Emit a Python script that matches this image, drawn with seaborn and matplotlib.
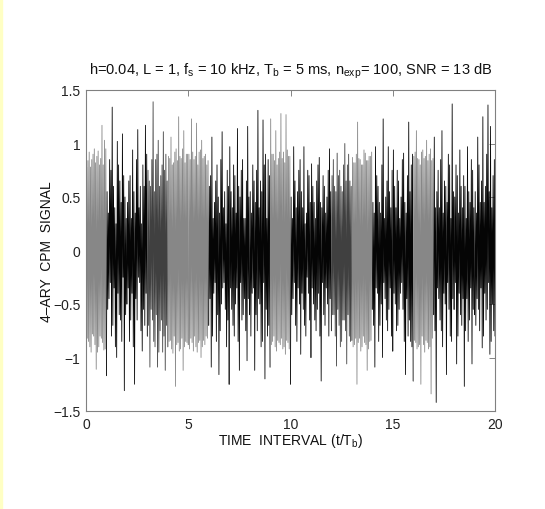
import numpy as np
import pandas as pd
import matplotlib
matplotlib.use("Agg")
import matplotlib.pyplot as plt
from matplotlib.patches import Rectangle
import seaborn as sns

# ---------------- data ----------------
# 4-ary symbol per bit interval (controls the grey / black look of each interval)
symbols = [3, -1, -3, 1, 3, 3, -1, -3, -1, 3,
           -3, -1, 1, 3, -1, -3, 3, -1, -3, -1]

# per interval, 8 groups of 4 samples: trough_a, crest_a, trough_b, crest_b
troughs_a = [
    -1.28, -0.85, -0.95, -0.80, -1.11, -0.90, -0.82, -0.93,
    -1.17, -0.45, -0.80, -0.35, -1.00, -0.60, -0.85, -1.31,
    -0.50, -0.85, -0.40, -1.25, -0.65, -0.30, -0.94, -0.70,
    -0.80, -1.09, -0.65, -0.90, -1.09, -0.75, -0.95, -1.12,
    -0.90, -0.84, -0.96, -1.27, -0.86, -0.92, -1.12, -0.85,
    -0.88, -0.82, -0.94, -0.90, -0.86, -1.00, -0.84, -0.80,
    -0.70, -1.09, -0.40, -0.85, -1.16, -0.50, -0.30, -0.90,
    -1.25, -0.55, -0.80, -0.35, -1.12, -0.65, -0.45, -1.03,
    -0.60, -0.40, -1.12, -0.75, -0.50, -0.85, -1.20, -0.80,
    -1.09, -0.85, -0.90, -0.84, -0.88, -0.92, -0.97, -0.86,
    -1.25, -0.45, -0.70, -0.35, -0.97, -0.55, -0.80, -0.40,
    -1.00, -0.50, -0.75, -0.40, -1.22, -0.60, -0.35, -0.80,
    -0.75, -0.60, -1.08, -0.70, -0.85, -0.65, -1.06, -0.80,
    -0.84, -0.88, -1.25, -0.82, -0.90, -0.86, -1.12, -0.85,
    -0.55, -1.09, -0.40, -0.70, -1.00, -0.45, -0.75, -0.35,
    -0.94, -0.50, -0.70, -0.40, -0.55, -1.16, -0.80, -0.85,
    -1.22, -0.86, -0.90, -1.25, -0.88, -0.84, -0.92, -1.34,
    -0.60, -1.42, -0.45, -0.75, -0.40, -1.16, -0.55, -0.85,
    -0.55, -1.06, -0.40, -0.70, -1.27, -0.45, -0.65, -1.06,
    -0.60, -0.45, -0.75, -0.91, -0.40, -0.55, -0.97, -0.50,
]
crests_a = [
    0.78, 0.92, 0.85, 0.95, 0.88, 0.80, 1.17, 1.03,
    0.55, 0.85, 1.34, 0.40, 1.02, 0.65, 1.09, 0.50,
    0.45, 0.70, 0.94, 0.35, 1.13, 0.60, 0.80, 1.17,
    0.75, 0.60, 1.39, 0.85, 1.03, 0.70, 1.11, 0.90,
    0.88, 1.06, 0.82, 0.95, 1.25, 0.86, 1.12, 0.90,
    0.90, 1.23, 0.85, 1.19, 0.92, 1.03, 0.88, 0.80,
    0.60, 1.06, 0.45, 0.80, 0.35, 1.11, 0.55, 0.75,
    0.97, 0.40, 0.70, 1.14, 0.50, 0.85, 0.30, 1.16,
    0.55, 0.80, 0.45, 1.31, 0.65, 1.22, 0.90, 0.85,
    1.23, 0.90, 1.12, 0.86, 1.28, 0.92, 1.27, 0.88,
    0.50, 0.97, 0.40, 0.75, 0.55, 0.97, 0.35, 0.70,
    0.81, 0.45, 0.65, 0.87, 0.40, 0.60, 0.50, 0.95,
    0.70, 0.60, 0.91, 0.75, 0.55, 1.00, 0.80, 0.65,
    0.87, 0.82, 1.20, 0.85, 0.80, 0.91, 0.84, 0.88,
    0.45, 0.97, 0.60, 0.35, 1.23, 0.50, 0.97, 0.40,
    0.94, 0.40, 0.65, 0.50, 0.91, 0.35, 1.20, 0.80,
    0.88, 1.12, 0.85, 0.92, 0.86, 1.03, 0.90, 0.84,
    1.06, 0.55, 0.40, 1.12, 0.65, 0.45, 0.80, 1.37,
    0.50, 0.70, 0.94, 0.40, 0.60, 0.97, 0.45, 0.75,
    0.55, 1.06, 0.45, 1.25, 0.60, 1.36, 1.16, 0.70,
]
troughs_b = [
    -0.82, -0.90, -0.78, -0.88, -0.95, -0.80, -0.86, -0.92,
    -0.55, -0.30, -0.70, -0.90, -0.40, -0.65, -0.25, -0.60,
    -0.35, -0.65, -0.90, -0.45, -0.25, -0.75, -0.55, -0.40,
    -0.70, -0.55, -0.85, -0.60, -0.95, -0.65, -0.80, -0.70,
    -0.85, -0.92, -0.80, -0.88, -0.94, -0.82, -0.90, -0.86,
    -0.92, -0.86, -0.80, -0.95, -0.84, -0.90, -0.88, -0.82,
    -0.45, -0.80, -0.30, -0.60, -0.75, -0.35, -0.55, -0.65,
    -0.35, -0.70, -0.50, -0.85, -0.30, -0.60, -0.75, -0.45,
    -0.80, -0.35, -0.60, -0.45, -0.90, -0.30, -0.55, -0.70,
    -0.88, -0.80, -0.94, -0.86, -0.82, -0.90, -0.84, -0.92,
    -0.60, -0.30, -0.85, -0.50, -0.40, -0.70, -0.25, -0.65,
    -0.35, -0.65, -0.55, -0.80, -0.30, -0.70, -0.50, -0.45,
    -0.60, -0.80, -0.55, -0.90, -0.65, -0.75, -0.60, -0.85,
    -0.90, -0.82, -0.86, -0.94, -0.80, -0.88, -0.92, -0.84,
    -0.70, -0.35, -0.85, -0.50, -0.30, -0.65, -0.55, -0.80,
    -0.40, -0.75, -0.55, -0.30, -0.85, -0.45, -0.65, -0.90,
    -0.84, -0.92, -0.88, -0.80, -0.95, -0.86, -0.90, -0.82,
    -0.75, -0.35, -0.65, -0.90, -0.50, -0.30, -0.80, -0.45,
    -0.30, -0.80, -0.60, -0.45, -0.75, -0.85, -0.35, -0.55,
    -0.70, -0.55, -0.35, -0.80, -0.65, -0.30, -0.85, -0.75,
]
crests_b = [
    0.84, 0.78, 0.90, 0.82, 0.93, 0.86, 0.80, 0.95,
    0.35, 0.75, 0.60, 0.25, 0.80, 0.45, 0.70, 0.30,
    0.65, 0.30, 0.55, 0.85, 0.40, 0.25, 0.60, 0.90,
    0.65, 0.85, 0.55, 0.90, 0.60, 0.80, 0.75, 0.65,
    0.86, 0.80, 0.92, 0.84, 0.88, 0.95, 0.82, 0.90,
    0.85, 0.92, 0.88, 0.80, 0.94, 0.86, 0.90, 0.84,
    0.70, 0.30, 0.65, 0.50, 0.85, 0.40, 0.25, 0.60,
    0.55, 0.80, 0.35, 0.60, 0.75, 0.30, 0.65, 0.50,
    0.35, 0.65, 0.75, 0.40, 0.55, 0.80, 0.30, 0.70,
    0.90, 0.84, 0.80, 0.92, 0.86, 0.82, 0.94, 0.88,
    0.30, 0.65, 0.55, 0.85, 0.40, 0.25, 0.75, 0.45,
    0.60, 0.30, 0.80, 0.45, 0.70, 0.35, 0.75, 0.55,
    0.85, 0.55, 0.70, 0.60, 0.80, 0.65, 0.90, 0.60,
    0.82, 0.90, 0.86, 0.80, 0.94, 0.84, 0.88, 0.92,
    0.35, 0.70, 0.45, 0.80, 0.30, 0.65, 0.55, 0.75,
    0.60, 0.75, 0.30, 0.85, 0.45, 0.70, 0.55, 0.90,
    0.92, 0.86, 0.80, 0.94, 0.88, 0.84, 0.95, 0.86,
    0.40, 0.75, 0.85, 0.35, 0.60, 0.90, 0.30, 0.55,
    0.80, 0.35, 0.60, 0.70, 0.30, 0.55, 0.85, 0.40,
    0.35, 0.80, 0.65, 0.45, 0.90, 0.55, 0.40, 0.85,
]
final_value = -0.80

x_ticks = [0, 5, 10, 15, 20]
y_ticks = [-1.5, -1, -0.5, 0, 0.5, 1, 1.5]
y_tick_labels = ["\u22121.5", "\u22121", "\u22120.5", "0", "0.5", "1", "1.5"]
line_shade = {3: "#878787", 1: "#404040", -1: "#050505", -3: "#050505"}

title = (r"h=0.04, L = 1, f$_{s}$ = 10 kHz, T$_{b}$ = 5 ms, "
         r"n$_{exp}$= 100, SNR = 13 dB")
xlabel = r"TIME  INTERVAL (t/T$_{b}$)"
ylabel = "4\u2013ARY  CPM  SIGNAL"

# ---------------- build the sample table ----------------
values = []
for a, b, c, d in zip(troughs_a, crests_a, troughs_b, crests_b):
    values.extend([a, b, c, d])
values.append(final_value)
n_per = 32
t = np.arange(len(values)) / n_per

rows = []
n_int = len(symbols)
for k in range(n_int):
    idx = range(k * n_per, min((k + 1) * n_per + 1, len(values)))
    for i in idx:
        rows.append({"t": t[i], "v": values[i], "interval": str(k)})
df = pd.DataFrame(rows)
palette = {str(k): line_shade[s] for k, s in enumerate(symbols)}

# ---------------- figure ----------------
sns.set_style("white")
plt.rcParams["font.family"] = ["Liberation Sans", "DejaVu Sans"]
plt.rcParams["mathtext.default"] = "regular"

fig = plt.figure(figsize=(5.45, 5.10), dpi=100)
fig.patches.append(Rectangle((0, 0), 2 / 545, 1, transform=fig.transFigure,
                             color="#ffffc4", zorder=0))
ax = fig.add_axes([86 / 545, 98 / 510, 409 / 545, 321 / 510])

sns.lineplot(data=df, x="t", y="v", hue="interval", palette=palette,
             estimator=None, sort=False, legend=False, linewidth=0.6,
             ax=ax, zorder=2)

ax.set_xlim(0, 20)
ax.set_ylim(-1.5, 1.5)
ax.set_xticks(x_ticks)
ax.set_xticklabels([str(v) for v in x_ticks])
ax.set_yticks(y_ticks)
ax.set_yticklabels(y_tick_labels)
ax.tick_params(direction="in", length=4, width=0.6, top=True, right=True,
               labelsize=10, colors="#222222", pad=4)
ax.tick_params(axis="both", which="both", color="#707070")
for sp in ax.spines.values():
    sp.set_visible(True)
    sp.set_color("#808080")
    sp.set_linewidth(0.8)
    sp.set_zorder(5)

ax.set_title(title, fontsize=10.5, pad=12, color="#111111")
ax.set_xlabel(xlabel, fontsize=10, labelpad=0, color="#111111")
ax.set_ylabel(ylabel, fontsize=10, labelpad=-1, color="#111111")

fig.savefig("out.png", dpi=100, facecolor="white")
